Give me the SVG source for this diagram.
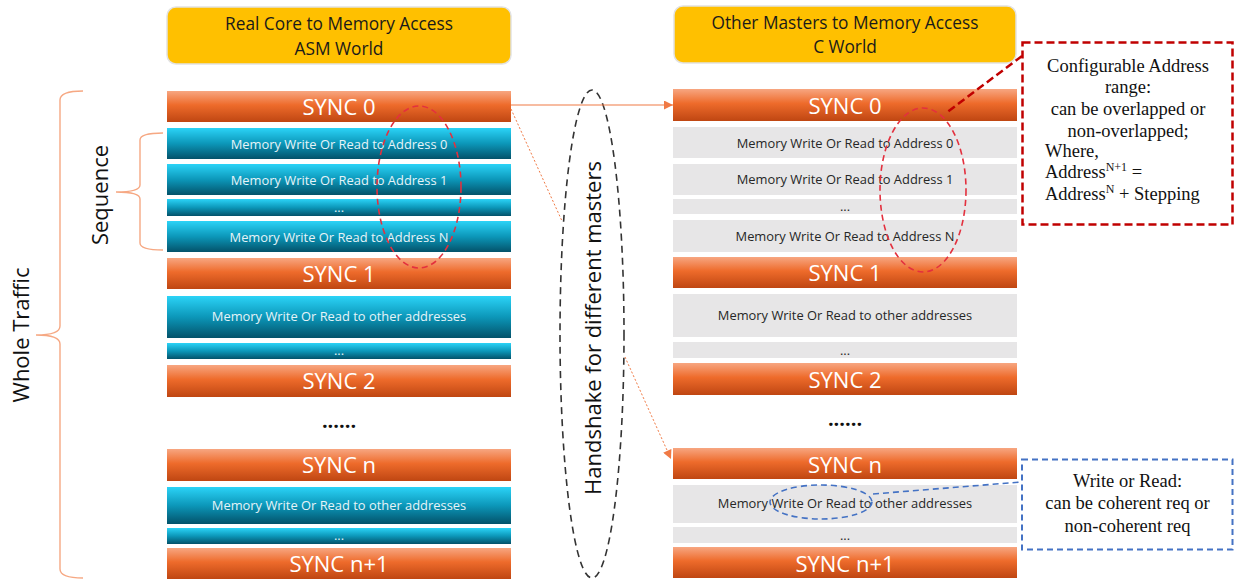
<svg xmlns="http://www.w3.org/2000/svg" width="1234" height="580" viewBox="0 0 1234 580">
  <defs>
    <linearGradient id="gSync" x1="0" y1="0" x2="0" y2="1">
      <stop offset="0" stop-color="#F7A681"/>
      <stop offset="0.45" stop-color="#EE6B2B"/>
      <stop offset="1" stop-color="#BF4612"/>
    </linearGradient>
    <linearGradient id="gMem" x1="0" y1="0" x2="0" y2="1">
      <stop offset="0" stop-color="#2BD3F7"/>
      <stop offset="0.5" stop-color="#0C97B9"/>
      <stop offset="1" stop-color="#03526A"/>
    </linearGradient>
    <marker id="arrow" viewBox="0 0 10 10" refX="10" refY="5" markerWidth="10" markerHeight="9" markerUnits="userSpaceOnUse" orient="auto">
      <path d="M0,0 L10,5 L0,10 z" fill="#F07A45"/>
    </marker>
  </defs>
  <style>
    text { font-family: "Open Sans", "Liberation Sans", sans-serif; }
    .hdr rect { fill: #FFC000; stroke: #E2E2E2; stroke-width: 1.5; }
    .hdr text { font-size: 17.3px; fill: #1a1a1a; text-anchor: middle; }
    .sync rect { fill: url(#gSync); }
    .sync text { font-size: 22px; fill: #ffffff; text-anchor: middle; }
    .mem rect { fill: url(#gMem); }
    .mem text { font-size: 12.9px; fill: #E6F4F8; text-anchor: middle; }
    .gry rect { fill: #E7E6E7; }
    .gry text { font-size: 12.9px; fill: #262626; text-anchor: middle; }
    .more { font-size: 20px; font-weight: bold; fill: #111; text-anchor: middle; }
    .brace { fill: none; stroke: #F6A883; stroke-width: 1.4; }
    .side { font-size: 22px; fill: #111; text-anchor: middle; }
    .note { font-family: "Liberation Serif", "Times New Roman", serif; font-size: 18.5px; fill: #111; }
    .sup { font-size: 12px; }
    .link { fill: none; stroke: #F07A45; stroke-width: 1.2; }
    .dotted { stroke-dasharray: 2 2; stroke-width: 1; }
  </style>

  <!-- column headers -->
  <g id="hdr-asm" class="hdr">
    <rect x="167" y="7" width="344" height="57" rx="9"/>
    <text x="339" y="30">Real Core to Memory Access</text>
    <text x="339" y="55">ASM World</text>
  </g>
  <g id="hdr-c" class="hdr">
    <rect x="674" y="6" width="342" height="57" rx="9"/>
    <text x="845" y="29">Other Masters to Memory Access</text>
    <text x="845" y="53">C World</text>
  </g>

  <!-- ASM world stack -->
  <g id="asm-sync0" class="sync"><rect x="167" y="91" width="344" height="31"/><text x="339" y="115">SYNC 0</text></g>
  <g id="asm-addr0" class="mem"><rect x="167" y="128" width="344" height="31"/><text x="339" y="149">Memory Write Or Read to Address 0</text></g>
  <g id="asm-addr1" class="mem"><rect x="167" y="164" width="344" height="31"/><text x="339" y="185">Memory Write Or Read to Address 1</text></g>
  <g id="asm-gap1" class="mem"><rect x="167" y="199" width="344" height="17"/><text x="339" y="212">...</text></g>
  <g id="asm-addrN" class="mem"><rect x="167" y="221" width="344" height="31"/><text x="339" y="242">Memory Write Or Read to Address N</text></g>
  <g id="asm-sync1" class="sync"><rect x="167" y="258" width="344" height="31"/><text x="339" y="282">SYNC 1</text></g>
  <g id="asm-other1" class="mem"><rect x="167" y="296" width="344" height="42"/><text x="339" y="321">Memory Write Or Read to other addresses</text></g>
  <g id="asm-gap2" class="mem"><rect x="167" y="343" width="344" height="16"/><text x="339" y="355">...</text></g>
  <g id="asm-sync2" class="sync"><rect x="167" y="365" width="344" height="32"/><text x="339" y="389">SYNC 2</text></g>
  <text class="more" x="339" y="428">......</text>
  <g id="asm-syncn" class="sync"><rect x="167" y="449" width="344" height="32"/><text x="339" y="473">SYNC n</text></g>
  <g id="asm-othern" class="mem"><rect x="167" y="487" width="344" height="37"/><text x="339" y="510">Memory Write Or Read to other addresses</text></g>
  <g id="asm-gap3" class="mem"><rect x="167" y="528" width="344" height="16"/><text x="339" y="540">...</text></g>
  <g id="asm-syncn1" class="sync"><rect x="167" y="548" width="344" height="31"/><text x="339" y="572">SYNC n+1</text></g>

  <!-- C world stack -->
  <g id="c-sync0" class="sync"><rect x="673" y="89" width="344" height="32"/><text x="845" y="114">SYNC 0</text></g>
  <g id="c-addr0" class="gry"><rect x="673" y="127" width="344" height="31"/><text x="845" y="148">Memory Write Or Read to Address 0</text></g>
  <g id="c-addr1" class="gry"><rect x="673" y="164" width="344" height="31"/><text x="845" y="184">Memory Write Or Read to Address 1</text></g>
  <g id="c-gap1" class="gry"><rect x="673" y="199" width="344" height="15"/><text x="845" y="211">...</text></g>
  <g id="c-addrN" class="gry"><rect x="673" y="220" width="344" height="32"/><text x="845" y="241">Memory Write Or Read to Address N</text></g>
  <g id="c-sync1" class="sync"><rect x="673" y="257" width="344" height="31"/><text x="845" y="281">SYNC 1</text></g>
  <g id="c-other1" class="gry"><rect x="673" y="294" width="344" height="43"/><text x="845" y="320">Memory Write Or Read to other addresses</text></g>
  <g id="c-gap2" class="gry"><rect x="673" y="342" width="344" height="16"/><text x="845" y="355">...</text></g>
  <g id="c-sync2" class="sync"><rect x="673" y="363" width="344" height="32"/><text x="845" y="388">SYNC 2</text></g>
  <text class="more" x="845" y="426">......</text>
  <g id="c-syncn" class="sync"><rect x="673" y="448" width="344" height="31"/><text x="845" y="473">SYNC n</text></g>
  <g id="c-othern" class="gry"><rect x="673" y="485" width="344" height="38"/><text x="845" y="508">Memory Write Or Read to other addresses</text></g>
  <g id="c-gap3" class="gry"><rect x="673" y="527" width="344" height="16"/><text x="845" y="540">...</text></g>
  <g id="c-syncn1" class="sync"><rect x="673" y="547" width="344" height="31"/><text x="845" y="572">SYNC n+1</text></g>

  <!-- braces and side labels -->
  <g id="whole-traffic">
    <path class="brace" d="M83,91 Q60,91 60,100 L60,326 Q60,335 36,335 Q60,335 60,344 L60,569 Q60,578 83,578"/>
    <text class="side" transform="translate(29,335) rotate(-90)" font-size="23.5">Whole Traffic</text>
  </g>
  <g id="sequence">
    <path class="brace" d="M163,133 Q140,133 140,140 L140,185 Q140,192 116,192 Q140,192 140,199 L140,243 Q140,250 163,250"/>
    <text class="side" transform="translate(108,195) rotate(-90)">Sequence</text>
  </g>

  <!-- handshake -->
  <g id="handshake">
    <ellipse cx="592" cy="334" rx="32" ry="244" fill="none" stroke="#333" stroke-width="1.6" stroke-dasharray="7 5"/>
    <text class="side" transform="translate(601,328) rotate(-90)" font-size="22.8">Handshake for different masters</text>
  </g>

  <!-- address range highlights -->
  <g id="range-asm">
    <ellipse cx="419" cy="187" rx="42" ry="81" fill="none" stroke="#E3303E" stroke-width="1.6" stroke-dasharray="6 4"/>
  </g>
  <g id="range-c">
    <ellipse cx="923" cy="190" rx="43" ry="82" fill="none" stroke="#E3303E" stroke-width="1.6" stroke-dasharray="6 4"/>
  </g>
  <g id="req-type">
    <ellipse cx="821" cy="502" rx="51" ry="17" fill="none" stroke="#4472C4" stroke-width="1.6" stroke-dasharray="6 4"/>
  </g>

  <!-- notes -->
  <g id="note-range">
    <rect x="1022.5" y="42.5" width="210" height="182" fill="#fff" stroke="#C00000" stroke-width="2.5" stroke-dasharray="8 4"/>
    <text class="note" x="1128" y="72" text-anchor="middle">Configurable Address</text>
    <text class="note" x="1128" y="93" text-anchor="middle">range:</text>
    <text class="note" x="1128" y="115" text-anchor="middle">can be overlapped or</text>
    <text class="note" x="1128" y="137" text-anchor="middle">non-overlapped;</text>
    <text class="note" x="1045" y="157">Where,</text>
    <text class="note" x="1045" y="178">Address<tspan class="sup" dy="-7">N+1</tspan><tspan dy="7"> =</tspan></text>
    <text class="note" x="1045" y="200">Address<tspan class="sup" dy="-7">N</tspan><tspan dy="7"> + Stepping</tspan></text>
  </g>
  <g id="note-req">
    <rect x="1022" y="459.5" width="210.5" height="90" fill="#fff" stroke="#4472C4" stroke-width="2" stroke-dasharray="6 4"/>
    <text class="note" x="1127.5" y="487" text-anchor="middle">Write or Read:</text>
    <text class="note" x="1127.5" y="509" text-anchor="middle">can be coherent req or</text>
    <text class="note" x="1127.5" y="532" text-anchor="middle">non-coherent req</text>
  </g>

  <!-- connectors -->
  <g id="connectors">
    <line class="link" x1="511" y1="105" x2="673" y2="105" marker-end="url(#arrow)"/>
    <line class="link dotted" x1="511" y1="109" x2="562" y2="221"/>
    <line class="link dotted" x1="625" y1="357" x2="671" y2="459" marker-end="url(#arrow)"/>
    <line x1="1022" y1="56" x2="946" y2="113" stroke="#C00000" stroke-width="2.5" stroke-dasharray="8 4"/>
    <line x1="873" y1="494" x2="1021" y2="482" stroke="#4472C4" stroke-width="1.6" stroke-dasharray="6 4"/>
  </g>
</svg>
